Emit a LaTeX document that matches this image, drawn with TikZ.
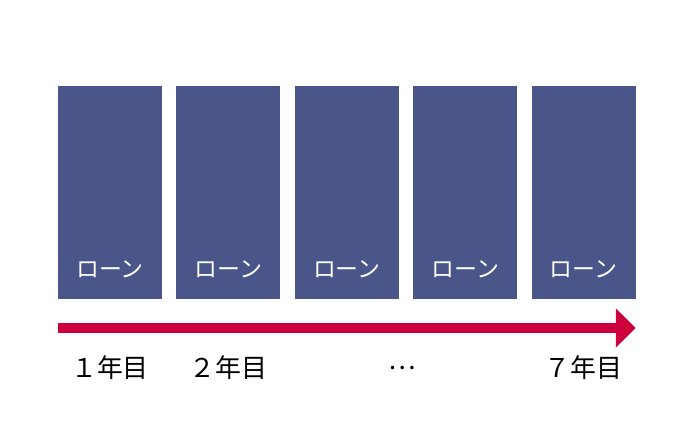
\documentclass[tikz,border=0pt]{standalone}
\usepackage{fontspec}
\newfontfamily\jpfont{Noto Sans CJK JP}
\usetikzlibrary{positioning,arrows.meta}
\definecolor{loanblue}{HTML}{4A5589}
\definecolor{yearred}{HTML}{CC003C}
\tikzset{
	loan/.style={rectangle, fill=loanblue, minimum width=104bp, minimum height=213bp, inner sep=0pt, node distance=14bp},
	word/.style={text=white, font=\jpfont\fontsize{23}{23}\selectfont, inner sep=0pt},
	year/.style={font=\jpfont\fontsize{26}{26}\selectfont, inner sep=0pt},
	timeline/.style={-{Triangle[length=20bp,width=38bp]}, line width=10bp, draw=yearred}
}
\begin{document}
\begin{tikzpicture}[x=1bp,y=1bp]
\useasboundingbox (0,0) rectangle (700,446);
\node[loan] (L1) at (110,253.5) {};
\node[loan] (L2) [right=of L1] {};
\node[loan] (L3) [right=of L2] {};
\node[loan] (L4) [right=of L3] {};
\node[loan] (L5) [right=of L4] {};
\node[word] (W1) at ([yshift=30bp]L1.south) {ローン};
\node[word] (W2) at ([yshift=30bp]L2.south) {ローン};
\node[word] (W3) at ([yshift=30bp]L3.south) {ローン};
\node[word] (W4) at ([yshift=30bp]L4.south) {ローン};
\node[word] (W5) at ([yshift=30bp]L5.south) {ローン};

% time axis under the loans
\coordinate (start) at (L1.west |- 0,118);
\coordinate (end) at (L5.east |- 0,118);
\draw[timeline] (start) -- (end);
\node[year] (Y1) at (L1 |- 0,78) {１年目};
\node[year] (Y2) at (L2 |- 0,78) {２年目};
\node[year] (Ydots) at (402,78) {…};
\node[year] (Y7) at (L5 |- 0,78) {７年目};
\end{tikzpicture}
\end{document}
